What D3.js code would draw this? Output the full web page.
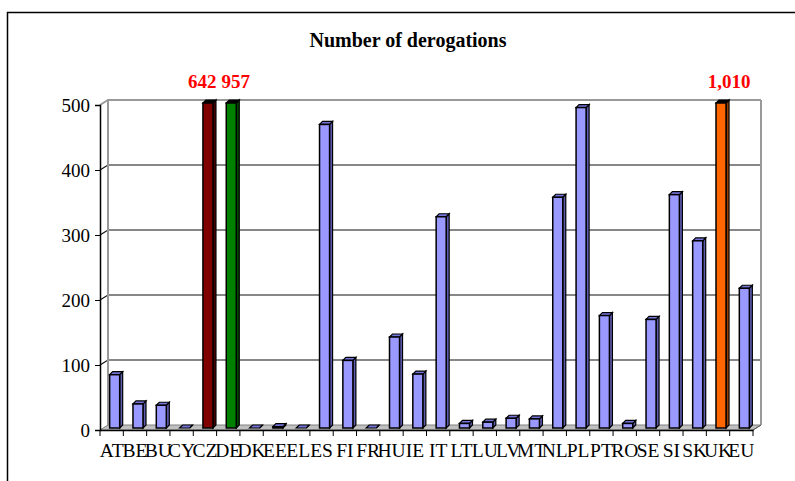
<!DOCTYPE html>
<html>
<head>
<meta charset="utf-8">
<script src="https://cdn.jsdelivr.net/npm/d3@7"></script>
<style>
  body { margin: 0; background: #fff; }
  text { font-family: "Liberation Serif", "Times New Roman", serif; }
</style>
</head>
<body>
<svg id="chart"></svg>
<script>
var width = 795;
var height = 481;

// data
var countries = ["AT","BE","BU","CY","CZ","DE","DK","EE","EL","ES","FI","FR","HU","IE","IT",
                 "LT","LU","LV","MT","NL","PL","PT","RO","SE","SI","SK","UK","EU"];
var derogations = [82,37,35,0,642,957,0,2,0,467,104,0,140,83,325,
                   7,9,15,14,355,493,173,7,167,359,288,1010,215];
var yTicks = [0,100,200,300,400,500];
var yMax = 500;
var specialColor = {CZ: "#800000", DE: "#008000", UK: "#ff6600"};
var specialSide = {CZ: "#4a0000", DE: "#004a00", UK: "#9a3d00"};

var svg = d3.select("#chart")
    .attr("width", width)
    .attr("height", height)

// outer frame (runs off the right and bottom edge)
svg.append("rect")
    .attr("x", 7.5).attr("y", 12.5)
    .attr("width", 820).attr("height", 500)
    .attr("fill", "none").attr("stroke", "#000").attr("stroke-width", 1.5)

svg.append("text")
    .attr("x", 408).attr("y", 47)
    .attr("text-anchor", "middle")
    .attr("font-size", "20px").attr("font-weight", "bold")
    .text("Number of derogations")

var left = 100, right = 753;
var wallDx = 8, wallDy = -5;   // depth of the 3d box
var barDx = 3, barDy = -2;     // where the bars sit in the depth
var capDx = 3, capDy = -3;     // depth of a single bar

var x = d3.scaleBand()
    .domain(countries)
    .range([left, right])
    .paddingInner(0.57)
    .paddingOuter(0.285)

var y = d3.scaleLinear()
    .domain([0, yMax])
    .range([430, 105])

var box = svg.append("g")

// floor
box.append("path")
    .attr("d", "M" + left + "," + y(0) + "L" + right + "," + y(0) +
               "L" + (right + wallDx) + "," + (y(0) + wallDy) +
               "L" + (left + wallDx) + "," + (y(0) + wallDy) + "Z")
    .attr("fill", "#c0c0c0").attr("stroke", "#808080").attr("stroke-width", 1)

// gridlines on side wall + back wall
box.selectAll(".grid")
    .data(yTicks.filter(function(d) { return d > 0 }))
    .enter()
    .append("polyline")
    .attr("points", function(d) {
        return left + "," + y(d) + " " + (left + wallDx) + "," + (y(d) + wallDy) + " " +
               (right + wallDx) + "," + (y(d) + wallDy)
    })
    .attr("fill", "none")
    .attr("stroke", function(d) { return d == yMax ? "#999" : "#111" })
    .attr("stroke-width", function(d) { return d == yMax ? 2 : 1.2 })

// wall edges
box.append("line")
    .attr("x1", left + wallDx).attr("x2", left + wallDx)
    .attr("y1", y(yMax) + wallDy).attr("y2", y(0) + wallDy)
    .attr("stroke", "#999").attr("stroke-width", 2)
box.append("line")
    .attr("x1", right + wallDx).attr("x2", right + wallDx)
    .attr("y1", y(yMax) + wallDy).attr("y2", y(0) + wallDy)
    .attr("stroke", "#999").attr("stroke-width", 2)
box.append("line")
    .attr("x1", right).attr("x2", right + wallDx)
    .attr("y1", y(0)).attr("y2", y(0) + wallDy)
    .attr("stroke", "#555").attr("stroke-width", 1)

// bars
var bars = svg.selectAll(".bar")
    .data(countries.map(function(c, i) { return {name: c, value: derogations[i]} }))
    .enter()
    .append("g")
    .attr("class", "bar")

var bw = x.bandwidth();

bars.each(function(d) {
    var g = d3.select(this);
    var v = Math.min(d.value, yMax);
    var x0 = x(d.name) + barDx;
    var x1 = x0 + bw;
    var yb = y(0) + barDy;
    var yt = y(v) + barDy;
    var front = specialColor[d.name] || "#9999ff";
    var side = specialSide[d.name] || "#5c5cb0";
    var top = specialColor[d.name] ? "#000" : "#7373d9";

    g.append("path")
        .attr("d", "M" + x1 + "," + yb + "L" + (x1 + capDx) + "," + (yb + capDy) +
                   "L" + (x1 + capDx) + "," + (yt + capDy) + "L" + x1 + "," + yt + "Z")
        .attr("fill", side).attr("stroke", "#000").attr("stroke-width", 1.2)
    g.append("path")
        .attr("d", "M" + x0 + "," + yt + "L" + x1 + "," + yt +
                   "L" + (x1 + capDx) + "," + (yt + capDy) + "L" + (x0 + capDx) + "," + (yt + capDy) + "Z")
        .attr("fill", top).attr("stroke", "#000").attr("stroke-width", 1.2)
    if (v > 0) {
        g.append("rect")
            .attr("x", x0).attr("y", yt)
            .attr("width", bw).attr("height", yb - yt)
            .attr("fill", front).attr("stroke", "#000").attr("stroke-width", 1.5)
    }
})

// labels for bars that run off the scale
var over = countries.map(function(c, i) { return {name: c, value: derogations[i]} })
    .filter(function(d) { return d.value > yMax })

svg.selectAll(".over")
    .data(over)
    .enter()
    .append("text")
    .attr("class", "over")
    .attr("x", function(d) {
        if (d.name == "CZ") return x("DE") - x.step() * x.paddingInner() / 2 + barDx - 3;
        if (d.name == "DE") return x("DE") - x.step() * x.paddingInner() / 2 + barDx + 2;
        return x(d.name) + bw / 2 + 11;
    })
    .attr("y", 88)
    .attr("text-anchor", function(d) {
        if (d.name == "CZ") return "end";
        if (d.name == "DE") return "start";
        return "middle";
    })
    .attr("fill", "#ff0000")
    .attr("font-size", "19px").attr("font-weight", "bold")
    .text(function(d) { return d3.format(",")(d.value) })

// front axes
var yAxis = d3.axisLeft(y)
    .tickValues(yTicks)
    .tickSize(5)
    .tickPadding(5)
    .tickFormat(d3.format("d"))

svg.append("g")
    .attr("transform", "translate(" + left + ",0)")
    .call(yAxis)
    .call(function(g) {
        g.select(".domain").attr("stroke", "#000").attr("stroke-width", 1.5)
        g.selectAll("text").attr("font-size", "19px").attr("fill", "#000")
            .attr("font-family", "Liberation Serif, serif")
    })

var xAxis = d3.axisBottom(x)
    .tickSize(0)
    .tickPadding(13)

svg.append("g")
    .attr("transform", "translate(0," + y(0) + ")")
    .call(xAxis)
    .call(function(g) {
        g.select(".domain").attr("stroke", "#000").attr("stroke-width", 1.5)
        g.selectAll("text").attr("font-size", "19.5px").attr("fill", "#000")
            .attr("font-family", "Liberation Serif, serif")
    })

// category separators under the baseline
svg.append("g")
    .selectAll("line")
    .data(d3.range(countries.length + 1))
    .enter()
    .append("line")
    .attr("x1", function(i) { return left + i * x.step() })
    .attr("x2", function(i) { return left + i * x.step() })
    .attr("y1", y(0)).attr("y2", y(0) + 6)
    .attr("stroke", "#000").attr("stroke-width", 1)
</script>
</body>
</html>
